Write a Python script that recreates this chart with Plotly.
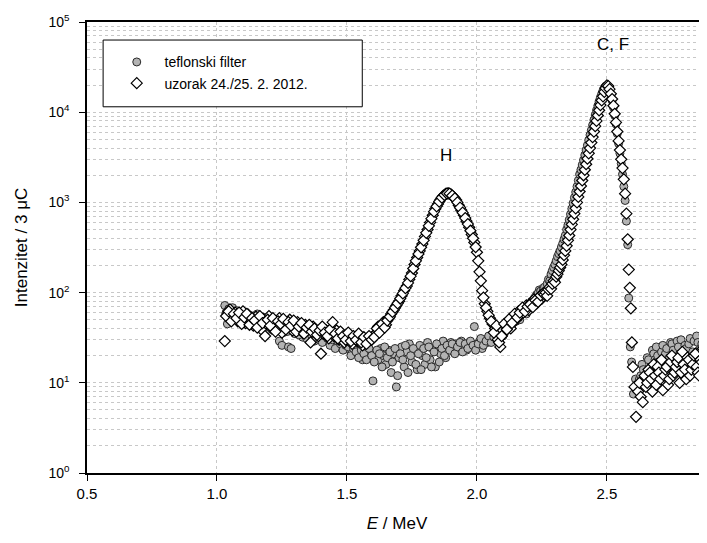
import plotly.graph_objects as go

# energy channels (MeV), shared by both spectra up to the top of the C,F peak
energy_low = [
    1.03, 1.04, 1.05, 1.06, 1.07, 1.08, 1.09, 1.10, 1.11, 1.12,
    1.13, 1.14, 1.15, 1.16, 1.17, 1.18, 1.19, 1.20, 1.21, 1.22,
    1.23, 1.24, 1.25, 1.26, 1.27, 1.28, 1.29, 1.30, 1.31, 1.32,
    1.33, 1.34, 1.35, 1.36, 1.37, 1.38, 1.39, 1.40, 1.41, 1.42,
    1.43, 1.44, 1.45, 1.46, 1.47, 1.48, 1.49, 1.50, 1.51, 1.52,
    1.53, 1.54, 1.55, 1.56, 1.57, 1.58, 1.59, 1.60,
    1.61, 1.62, 1.63, 1.64, 1.65, 1.66, 1.67, 1.68, 1.69, 1.70,
    1.71, 1.72, 1.73, 1.74, 1.75, 1.76, 1.77, 1.78, 1.79, 1.80,
    1.81, 1.82, 1.83, 1.84, 1.85, 1.86, 1.87, 1.88, 1.89, 1.90,
    1.91, 1.92, 1.93, 1.94, 1.95, 1.96, 1.97, 1.98, 1.99, 2.00,
    2.01, 2.02, 2.03, 2.04, 2.05, 2.06, 2.07, 2.08, 2.09, 2.10,
    2.11, 2.12, 2.13, 2.14, 2.15, 2.16, 2.17, 2.18, 2.19, 2.20,
    2.21, 2.22, 2.23, 2.24, 2.25,
]
# the in-between channels of the same range
energy_mid = [
    1.035, 1.045, 1.055, 1.065, 1.075, 1.085, 1.095, 1.105, 1.115, 1.125,
    1.135, 1.145, 1.155, 1.165, 1.175, 1.185, 1.195, 1.205, 1.215, 1.225,
    1.235, 1.245, 1.255, 1.265, 1.275, 1.285, 1.295, 1.305, 1.315, 1.325,
    1.335, 1.345, 1.355, 1.365, 1.375, 1.385, 1.395, 1.405, 1.415, 1.425,
    1.435, 1.445, 1.455, 1.465, 1.475, 1.485, 1.495, 1.505, 1.515, 1.525,
    1.535, 1.545, 1.555, 1.565, 1.575, 1.585, 1.595,
    1.605, 1.615, 1.625, 1.635, 1.645, 1.655, 1.665, 1.675, 1.685, 1.695,
    1.705, 1.715, 1.725, 1.735, 1.745, 1.755, 1.765, 1.775, 1.785, 1.795,
    1.805, 1.815, 1.825, 1.835, 1.845, 1.855, 1.865, 1.875, 1.885, 1.895,
    1.905, 1.915, 1.925, 1.935, 1.945, 1.955, 1.965, 1.975, 1.985, 1.995,
    2.005, 2.015, 2.025, 2.035, 2.045, 2.055, 2.065, 2.075, 2.085, 2.095,
    2.105, 2.115, 2.125, 2.135, 2.145, 2.155, 2.165, 2.175, 2.185, 2.195,
    2.205, 2.215, 2.225, 2.235, 2.245, 2.255,
]
energy_peak = [
    2.26, 2.265, 2.27, 2.275, 2.28, 2.285, 2.29, 2.295, 2.30, 2.305,
    2.31, 2.315, 2.32, 2.325, 2.33, 2.335, 2.34, 2.345, 2.35, 2.355,
    2.36, 2.365, 2.37, 2.375, 2.38, 2.385, 2.39, 2.395, 2.40, 2.405,
    2.41, 2.415, 2.42, 2.425, 2.43, 2.435, 2.44, 2.445, 2.45, 2.455,
    2.46, 2.465, 2.47, 2.475, 2.48, 2.485, 2.49, 2.495, 2.50, 2.505,
    2.51, 2.515, 2.52, 2.525, 2.53, 2.535, 2.54, 2.545, 2.55, 2.555,
    2.56, 2.565, 2.57, 2.575, 2.58,
]

# teflonski filter
teflon_low = [
    72, 45, 62, 68, 55, 50, 58, 47, 60, 52,
    44, 55, 49, 40, 53, 46, 50, 42, 48, 38,
    45, 29, 26, 42, 37, 46, 40, 35, 43, 38,
    32, 39, 36, 30, 34, 37, 31, 33, 29, 35,
    30, 27, 32, 28, 25, 30, 26, 24, 28, 22,
    25, 21, 23, 18, 20, 22, 19, 10.5,
    22, 18, 24, 20, 16, 23, 13, 21, 9, 19,
    25, 15, 22, 27, 17, 23, 14, 26, 20, 16,
    28, 18, 24, 15, 26, 21, 29, 19, 25, 28,
    22, 27, 24, 29, 26, 23, 28, 25, 42, 27,
    29, 24, 30, 28, 32, 30, 34, 29, 36, 33,
    40, 45, 42, 50, 48, 56, 60, 65, 58, 72,
    80, 86, 95, 107, 100,
]
teflon_mid = [
    60, 66, 50, 57, 63, 48, 54, 61, 45, 56,
    50, 42, 58, 47, 44, 52, 39, 49, 45, 41,
    47, 43, 36, 44, 25, 24, 38, 41, 34, 39,
    36, 31, 38, 33, 29, 35, 30, 28, 33, 31,
    26, 30, 24, 29, 27, 23, 26, 25, 20, 24,
    22, 19, 23, 21, 18, 24, 20,
    17, 23, 21, 15, 25, 19, 22, 17, 24, 12,
    21, 18, 26, 13, 20, 24, 16, 21, 14, 24,
    19, 25, 15, 22, 27, 17, 24, 20, 26, 23,
    27, 21, 25, 28, 22, 27, 24, 29, 26, 23,
    27, 31, 26, 29, 33, 28, 32, 36, 31, 38,
    35, 41, 47, 44, 52, 55, 50, 62, 68, 64,
    75, 78, 90, 98, 104, 112,
]
teflon_peak = [
    115, 105, 125, 140, 135, 160, 175, 190, 205, 225,
    250, 270, 290, 320, 350, 390, 430, 500, 560, 640,
    740, 850, 980, 1130, 1300, 1500, 1750, 2050, 2300, 2600,
    2950, 3350, 3800, 4300, 4900, 5600, 6300, 7200, 8200, 9300,
    10500, 11800, 13200, 14600, 16000, 17400, 18600, 19400, 19500, 18800,
    17300, 15500, 13500, 11300, 9200, 7400, 5800, 4500, 3500, 2700,
    2050, 1500, 1050, 620, 340,
]
teflon_edge_e = [2.584, 2.59, 2.595, 2.602, 2.61]
teflon_edge = [87, 25, 17, 7.5, 11]
teflon_tail_e = [
    2.62, 2.625, 2.63, 2.635, 2.64, 2.645, 2.65, 2.655, 2.66, 2.665,
    2.67, 2.675, 2.68, 2.685, 2.69, 2.695, 2.70, 2.705, 2.71, 2.715,
    2.72, 2.725, 2.73, 2.735, 2.74, 2.745, 2.75, 2.755, 2.76, 2.765,
    2.77, 2.775, 2.78, 2.785, 2.79, 2.795, 2.80, 2.805, 2.81, 2.815,
    2.82, 2.825, 2.83, 2.835, 2.84, 2.845, 2.85, 2.855, 2.86, 2.865,
    2.87, 2.875, 2.88, 2.885, 2.89,
]
teflon_tail = [
    9, 11, 12, 16, 14, 10, 11, 19, 18, 13,
    15, 23, 21, 18, 25, 20, 17, 15, 22, 26,
    14, 21, 24, 17, 19, 28, 27, 23, 16, 19,
    29, 25, 21, 30, 18, 18, 26, 24, 20, 27,
    31, 20, 22, 29, 17, 33, 28, 23, 24, 27,
    34, 22, 21, 30, 26,
]

# uzorak 24./25. 2. 2012.
sample_low = [
    29, 58, 65, 52, 60, 48, 55, 62, 46, 57,
    50, 43, 54, 47, 39, 51, 45, 55, 40, 49,
    43, 52, 36, 46, 41, 50, 38, 44, 47, 40,
    36, 44, 39, 28, 42, 37, 33, 21, 35, 38,
    31, 36, 33, 38, 30, 35, 28, 32, 34, 27,
    31, 29, 33, 26, 30, 28, 31, 33,
    35, 42, 38, 47, 44, 52, 58, 64, 72, 80,
    92, 105, 118, 140, 165, 205, 245, 290, 345, 420,
    500, 600, 720, 850, 960, 1080, 1180, 1240, 1260, 1230,
    1150, 1060, 930, 820, 720, 620, 530, 440, 360, 280,
    170, 105, 75, 62, 52, 45, 40, 30, 25, 38,
    42, 48, 40, 55, 50, 62, 57, 66, 72, 64,
    78, 84, 76, 90, 86,
]
sample_mid = [
    55, 62, 48, 58, 52, 60, 45, 53, 58, 44,
    52, 49, 41, 55, 46, 33, 50, 43, 52, 37,
    48, 45, 51, 39, 47, 43, 49, 37, 42, 46,
    35, 41, 44, 37, 40, 34, 38, 42, 36, 33,
    39, 47, 35, 31, 37, 33, 30, 36, 29, 33,
    30, 35, 28, 32, 27, 33, 30,
    32, 40, 36, 45, 41, 49, 54, 61, 68, 76,
    86, 98, 112, 128, 152, 185, 225, 268, 318, 380,
    460, 550, 660, 790, 905, 1020, 1130, 1210, 1255, 1250,
    1190, 1110, 1000, 875, 770, 670, 575, 485, 400, 320,
    225, 135, 88, 68, 56, 48, 36, 43, 28, 33,
    45, 39, 51, 46, 58, 53, 60, 68, 62, 70,
    74, 69, 82, 79, 93, 98,
]
sample_peak = [
    95, 100, 92, 108, 115, 110, 125, 135, 130, 150,
    160, 175, 190, 205, 230, 260, 290, 330, 380, 430,
    500, 570, 650, 750, 860, 1000, 1150, 1320, 1520, 1750,
    2000, 2300, 2650, 3050, 3500, 4000, 4600, 5300, 6100, 7000,
    8000, 9200, 10500, 12000, 13500, 15000, 16800, 18500, 19800, 19500,
    18000, 16000, 14000, 11800, 9600, 7700, 6100, 4800, 3800, 3000,
    2400, 1800, 1250, 750, 390,
]
sample_edge_e = [2.584, 2.588, 2.592, 2.596, 2.600, 2.606, 2.612]
sample_edge = [180, 113, 67, 28, 15, 9, 4.2]
sample_tail_e = [
    2.62, 2.625, 2.63, 2.638, 2.645, 2.65, 2.655, 2.66, 2.665, 2.67,
    2.675, 2.68, 2.685, 2.69, 2.695, 2.70, 2.705, 2.71, 2.715, 2.72,
    2.725, 2.73, 2.735, 2.74, 2.745, 2.75, 2.755, 2.76, 2.765, 2.77,
    2.775, 2.78, 2.785, 2.79, 2.795, 2.80, 2.805, 2.81, 2.815, 2.82,
    2.825, 2.83, 2.835, 2.84, 2.845, 2.85, 2.855, 2.86, 2.865, 2.87,
    2.875, 2.88, 2.885, 2.89,
]
sample_tail = [
    8, 10, 7, 6.1, 12, 9, 10, 14, 13, 11,
    8, 16, 12, 9.5, 15, 13, 11, 18, 8.3, 12,
    14, 15, 9.5, 11, 17, 20, 12, 13, 15, 17,
    19, 10, 13, 22, 16, 14, 11, 19, 18, 12,
    14, 16, 20, 21, 15, 13, 12, 18, 17, 24,
    22, 15, 16, 19,
]

decades = [1, 10, 100, 1000, 10000, 100000]
decade_labels = ["10<sup>%d</sup>" % i for i in range(6)]

fnt = "Liberation Sans, Arial, sans-serif"
nb = "\u00a0\u00a0"  # small gap between legend symbol and text

fig = go.Figure()
fig.add_trace(go.Scatter(
    x=energy_low + energy_mid + energy_peak + teflon_edge_e + teflon_tail_e,
    y=teflon_low + teflon_mid + teflon_peak + teflon_edge + teflon_tail,
    mode="markers", name=nb + "teflonski filter",
    marker=dict(symbol="circle", size=8, color="#b3b3b3",
                line=dict(color="#2a2a2a", width=1)),
))
fig.add_trace(go.Scatter(
    x=energy_low + energy_mid + energy_peak + sample_edge_e + sample_tail_e,
    y=sample_low + sample_mid + sample_peak + sample_edge + sample_tail,
    mode="markers", name=nb + "uzorak 24./25. 2. 2012.",
    marker=dict(symbol="diamond", size=8.5, color="white",
                line=dict(color="black", width=1.2)),
))

fig.add_annotation(x=1.88, y=3.52, xref="x", yref="y", text="H",
                   showarrow=False, font=dict(size=17, color="black"))
fig.add_annotation(x=2.523, y=4.75, xref="x", yref="y", text="C, F",
                   showarrow=False, font=dict(size=17, color="black"))

# legend frame
fig.add_shape(type="rect", xref="paper", yref="paper",
              x0=0.026, x1=0.444, y0=0.812, y1=0.96,
              line=dict(color="black", width=1), fillcolor="white", layer="above")

# the page body adds 8 px on the left and top, so margins are 8 px smaller there
fig.update_layout(
    width=707, height=543,
    margin=dict(l=79, r=8, t=14, b=78),
    plot_bgcolor="white", paper_bgcolor="white",
    font=dict(family=fnt, size=14, color="black"),
    showlegend=True,
    legend=dict(x=0.048, y=0.946, xanchor="left", yanchor="top",
                bgcolor="rgba(0,0,0,0)", borderwidth=0,
                font=dict(size=14), tracegroupgap=0, itemsizing="trace"),
)

fig.update_xaxes(
    range=[0.5, 2.885], tick0=0.5, dtick=0.5, tickformat=".1f",
    showline=True, linecolor="black", linewidth=1.5, mirror=True,
    ticks="outside", ticklen=6, tickcolor="black", automargin=False,
    showgrid=True, gridcolor="#c8c8c8", griddash="dot", gridwidth=1,
    zeroline=False, tickfont=dict(size=15),
    title=dict(text="<i>E</i> / MeV", font=dict(size=17), standoff=16),
)
fig.update_yaxes(
    type="log", range=[0, 5], tickvals=decades, ticktext=decade_labels,
    showline=True, linecolor="black", linewidth=1.5, automargin=False,
    ticks="outside", ticklen=6, tickcolor="black", ticklabelstandoff=7,
    showgrid=True, gridcolor="#c8c8c8", griddash="dot", gridwidth=1,
    minor=dict(dtick="D1", showgrid=True, gridcolor="#c8c8c8", griddash="dot", ticks=""),
    zeroline=False, tickfont=dict(size=14),
    title=dict(text="Intenzitet / 3 μC", font=dict(size=17), standoff=16),
)

fig.write_html("out.html")
